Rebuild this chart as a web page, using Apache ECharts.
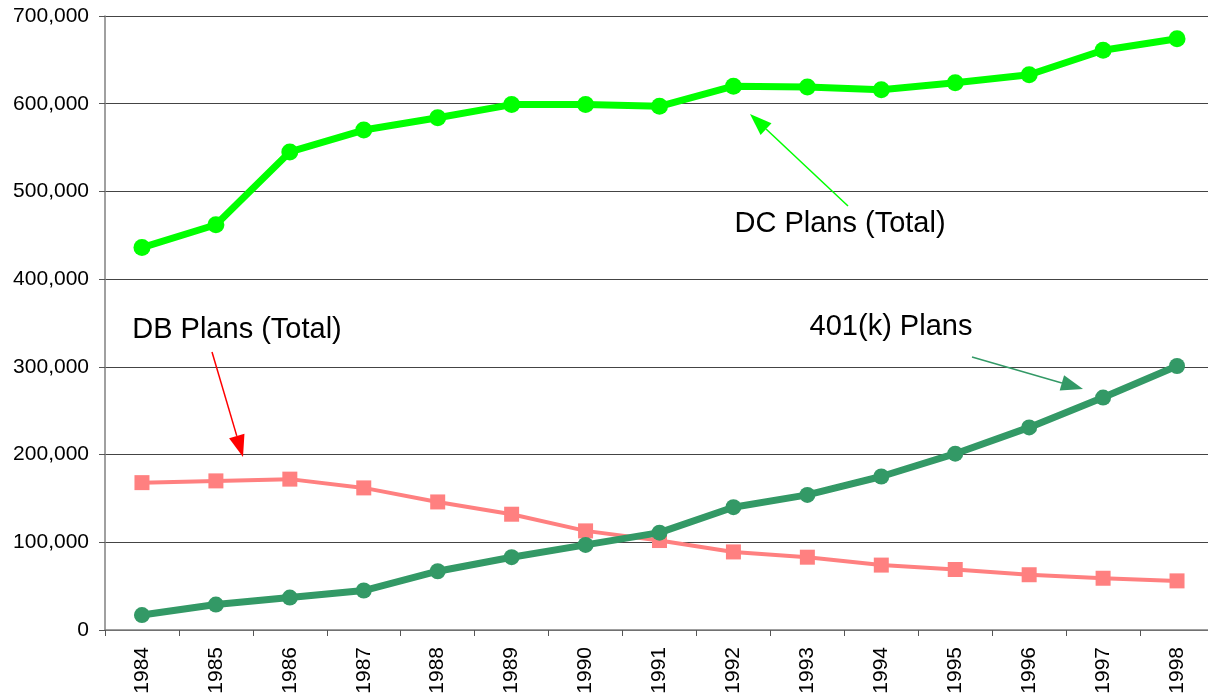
<!DOCTYPE html>
<html><head><meta charset="utf-8">
<script src="https://cdn.jsdelivr.net/npm/echarts@6/dist/echarts.min.js"></script>
<style>html,body{margin:0;padding:0;background:#fff}#c{width:1208px;height:696px}</style>
</head><body><div id="c"></div>
<script>
const years = ['1984','1985','1986','1987','1988','1989','1990','1991','1992','1993','1994','1995','1996','1997','1998'];
const dcPlans = [436000,462000,545000,570000,584000,599000,599000,597000,620000,619000,616000,624000,633000,661000,674000];
const k401Plans = [17000,29000,37000,45000,67000,83000,97000,111000,140000,154000,175000,201000,231000,265000,301000];
const dbPlans = [168000,170000,172000,162000,146000,132000,113000,102000,89000,83000,74000,69000,63000,59000,56000];
const yTicks = {min:0, max:700000, interval:100000};

const chart = echarts.init(document.getElementById('c'), null, {renderer:'canvas'});
const font = 'Liberation Sans, Arial, sans-serif';

function arrow(x1,y1,x2,y2,color,w){
  const dx=x2-x1, dy=y2-y1, L=Math.hypot(dx,dy), ux=dx/L, uy=dy/L;
  const hl=22, hw=8;
  const bx=x2-ux*hl, by=y2-uy*hl;
  return [
    {type:'line', shape:{x1:x1,y1:y1,x2:bx,y2:by}, style:{stroke:color,lineWidth:w}, z:10},
    {type:'polygon', shape:{points:[[x2,y2],[bx-uy*hw,by+ux*hw],[bx+uy*hw,by-ux*hw]]}, style:{fill:color}, z:10}
  ];
}
function label(text,cx,cy){
  return {type:'text', x:cx, y:cy, style:{text:text, font:'29px '+font, fill:'#000', textAlign:'center', textVerticalAlign:'middle'}, z:10};
}

chart.setOption({
  animation:false,
  backgroundColor:'#fff',
  grid:{left:105, top:16, width:1109, height:614, containLabel:false, outerBoundsMode:'none'},
  xAxis:{
    type:'category', data:years, boundaryGap:true,
    axisLine:{lineStyle:{color:'#808080',width:1.5}},
    axisTick:{show:true, length:6, interval:0, lineStyle:{color:'#555'}},
    axisLabel:{rotate:90, fontSize:21, color:'#000', fontFamily:font, margin:17, interval:0}
  },
  yAxis:{
    type:'value', min:yTicks.min, max:yTicks.max, interval:yTicks.interval,
    axisLine:{show:true, lineStyle:{color:'#808080',width:1.5}},
    axisTick:{show:true, length:6, lineStyle:{color:'#555'}},
    splitLine:{lineStyle:{color:'#444', width:1}},
    axisLabel:{fontSize:21, color:'#000', fontFamily:font, margin:16,
      formatter:v=>v.toLocaleString('en-US')}
  },
  series:[
    {name:'DC Plans (Total)', type:'line', data:dcPlans, symbol:'circle', symbolSize:17,
      lineStyle:{color:'#00FF00', width:7}, itemStyle:{color:'#00FF00'}, z:3},
    {name:'DB Plans (Total)', type:'line', data:dbPlans, symbol:'rect', symbolSize:15,
      lineStyle:{color:'#FF8080', width:4}, itemStyle:{color:'#FF8080'}, z:2},
    {name:'401(k) Plans', type:'line', data:k401Plans, symbol:'circle', symbolSize:16,
      lineStyle:{color:'#339966', width:7}, itemStyle:{color:'#339966'}, z:4}
  ],
  graphic:[
    label('DC Plans (Total)', 840, 224),
    label('DB Plans (Total)', 237, 330),
    label('401(k) Plans', 891, 327),
    ...arrow(848,206,750,114,'#00FF00',1.5),
    ...arrow(212,352,243,457,'#FF0000',1.5),
    ...arrow(972,357,1083,389,'#339966',1.5)
  ]
});
</script></body></html>
